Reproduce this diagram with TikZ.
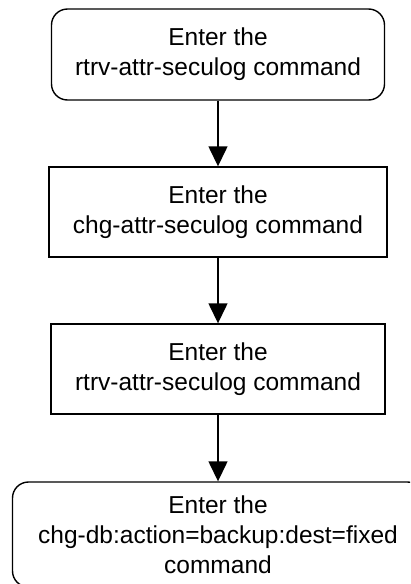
\documentclass[tikz,border=0pt]{standalone}
\usepackage{fontspec}
\setmainfont{Liberation Sans}
\usepackage{tikz}
\usetikzlibrary{arrows.meta, positioning}

\begin{document}
\begin{tikzpicture}[x=1pt, y=-1pt,
    stepbox/.style={draw, line width=1.4pt, align=center, inner sep=0pt,
      font=\fontsize{24.5}{30}\selectfont, minimum height=90pt},
    roundbox/.style={stepbox, rounded corners=16pt},
    flow/.style={line width=1.4pt, -{Triangle[length=20pt, width=19pt]}}]
  \useasboundingbox (0,0) rectangle (410,584);
  \clip (0,0) rectangle (410,584);
  \node[roundbox, minimum width=333pt, minimum height=91pt] (rtrvfirst) at (218,54.5)
    {Enter the\\rtrv-attr-seculog command};
  \node[stepbox, minimum width=338pt] (chgattr) at (218,212)
    {Enter the\\chg-attr-seculog command};
  \node[stepbox, minimum width=334pt] (rtrvsecond) at (218,369)
    {Enter the\\rtrv-attr-seculog command};
  \node[roundbox, minimum width=411pt, minimum height=105pt] (backup) at (218,534.5)
    {Enter the\\chg-db:action=backup:dest=fixed\\command};
  \draw[flow] (rtrvfirst) -- (chgattr);
  \draw[flow] (chgattr) -- (rtrvsecond);
  \draw[flow] (rtrvsecond) -- (backup);
\end{tikzpicture}
\end{document}
